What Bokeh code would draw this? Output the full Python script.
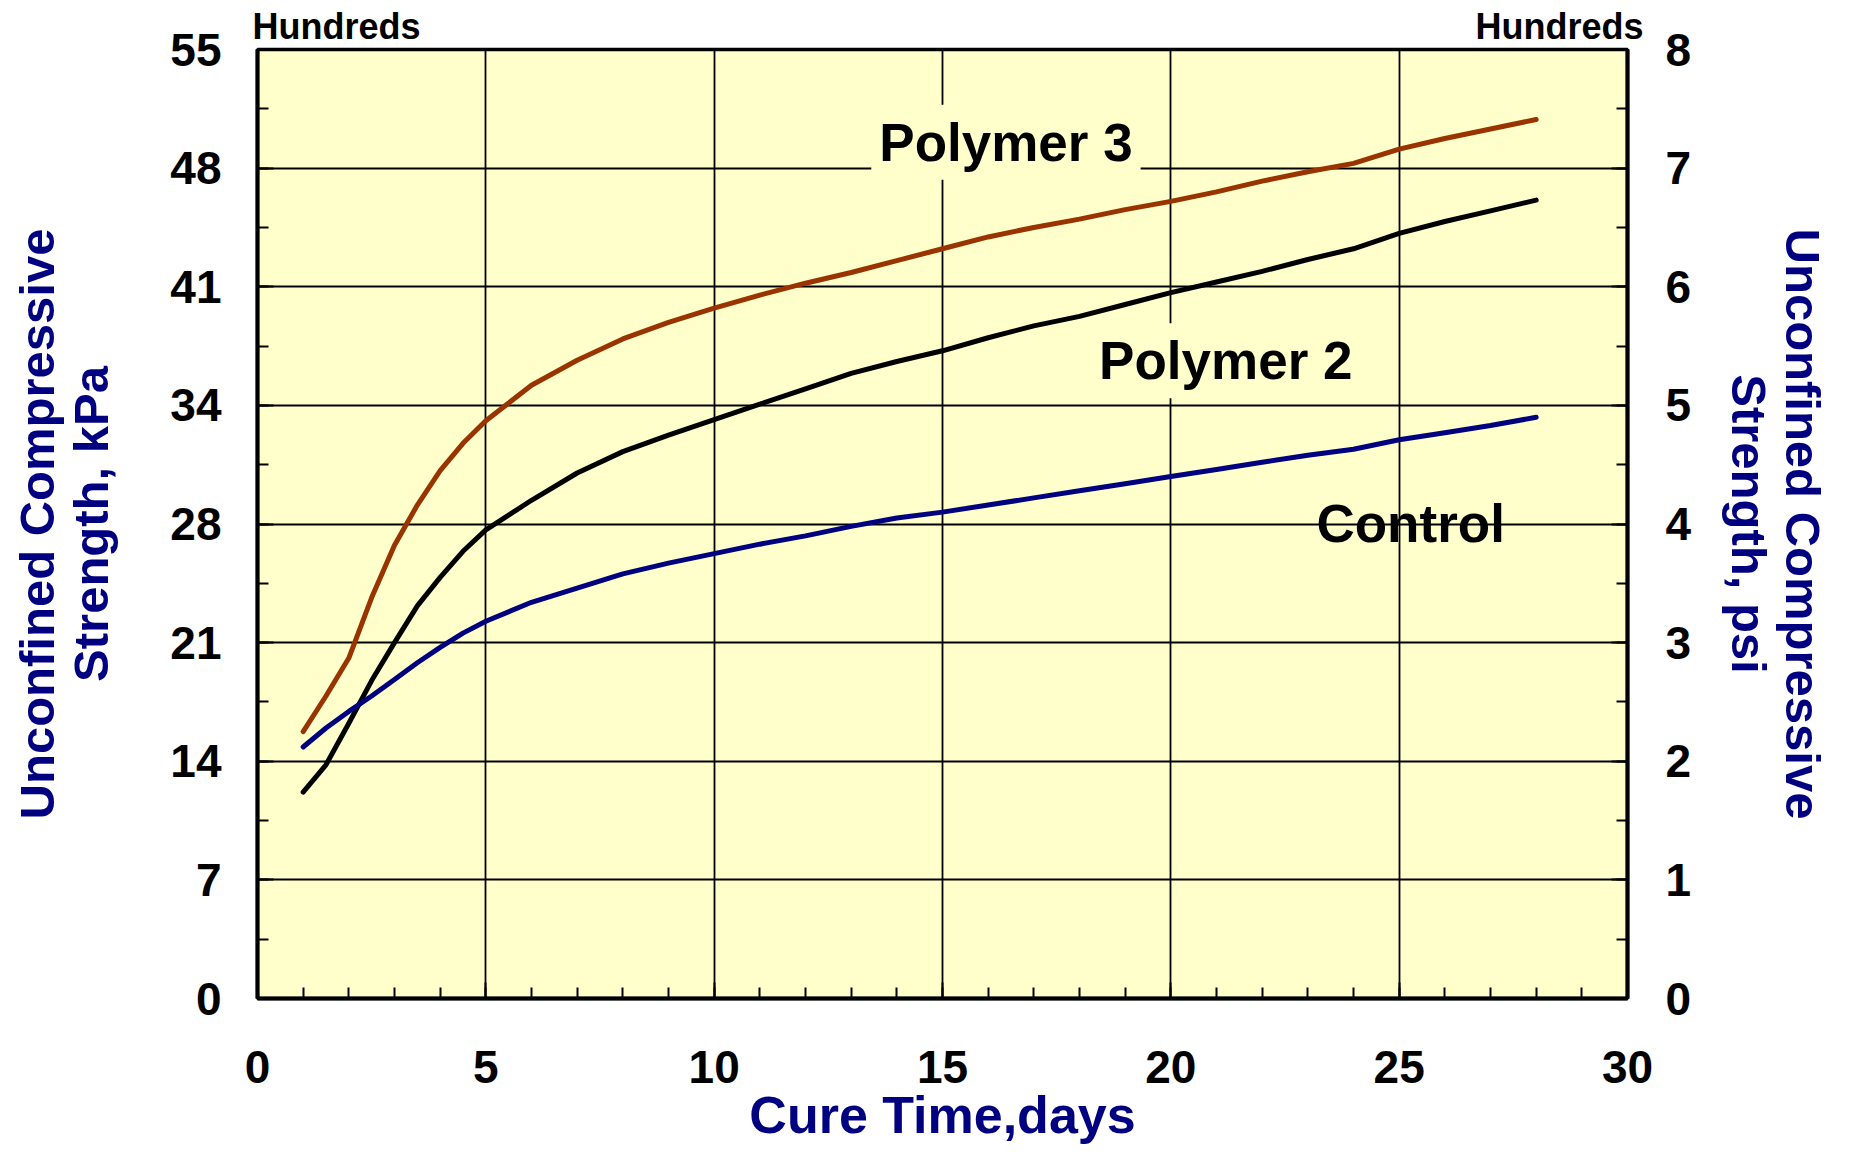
from bokeh.plotting import figure
from bokeh.models import Range1d, LinearAxis, FixedTicker, Label
from bokeh.embed import file_html
from bokeh.resources import INLINE

# ---------------- data ----------------
days = [1, 1.5, 2, 2.5, 3, 3.5, 4, 4.5, 5, 6, 7, 8, 9, 10, 11, 12, 13, 14,
        15, 16, 17, 18, 19, 20, 21, 22, 23, 24, 25, 26, 27, 28]
# strength in hundreds of psi
polymer3 = [2.25, 2.55, 2.87, 3.38, 3.82, 4.16, 4.45, 4.68, 4.87, 5.17, 5.38,
            5.56, 5.70, 5.82, 5.93, 6.03, 6.12, 6.22, 6.32, 6.42, 6.50, 6.57,
            6.65, 6.72, 6.80, 6.89, 6.97, 7.04, 7.16, 7.25, 7.33, 7.41]
polymer2 = [1.74, 1.97, 2.32, 2.68, 3.00, 3.31, 3.55, 3.77, 3.95, 4.20, 4.43,
            4.61, 4.75, 4.88, 5.01, 5.14, 5.27, 5.37, 5.46, 5.57, 5.67, 5.75,
            5.85, 5.95, 6.04, 6.13, 6.23, 6.32, 6.45, 6.55, 6.64, 6.73]
control = [2.12, 2.28, 2.42, 2.55, 2.69, 2.83, 2.96, 3.08, 3.18, 3.34, 3.46,
           3.58, 3.67, 3.75, 3.83, 3.90, 3.98, 4.05, 4.10, 4.16, 4.22, 4.28,
           4.34, 4.40, 4.46, 4.52, 4.58, 4.63, 4.71, 4.77, 4.83, 4.90]
series_names = ["Polymer 3", "Polymer 2", "Control"]

x_ticks = [0, 5, 10, 15, 20, 25, 30]
x_minor = list(range(0, 31))
psi_ticks = [0, 1, 2, 3, 4, 5, 6, 7, 8]
psi_tick_labels = ["0", "1", "2", "3", "4", "5", "6", "7", "8"]
kpa_tick_labels = ["0", "7", "14", "21", "28", "34", "41", "48", "55"]
y_minor = [i * 0.5 for i in range(0, 17)]
unit_note = "Hundreds"

# ---------------- layout ----------------
W, H = 1833, 1146
FL, FR, FT, FB = 257, 1628, 49, 1000   # frame edges in canvas px
XMIN, XMAX, YMIN, YMAX = 0, 30, 0, 8
PXX = (FR - FL) / (XMAX - XMIN)
PXY = (FB - FT) / (YMAX - YMIN)


def dx(xpix):
    return XMIN + (xpix - FL) / PXX


def dy(ypix):
    return YMIN + (FB - ypix) / PXY


FONT = "Liberation Sans"
NAVY = "#000080"

p = figure(width=W, height=H, output_backend="svg", toolbar_location=None,
           title=None,
           x_range=Range1d(XMIN, XMAX), y_range=Range1d(YMIN, YMAX),
           min_border_left=FL, min_border_right=W - FR,
           min_border_top=FT, min_border_bottom=H - FB,
           background_fill_color="#FFFFCC", border_fill_color="white")

p.outline_line_color = "black"
p.outline_line_width = 3.5

bottom_axis = p.below[0]
left_axis = p.left[0]

right_axis = LinearAxis()
p.add_layout(right_axis, "right")
top_axis = LinearAxis()
p.add_layout(top_axis, "above")

bottom_axis.ticker = FixedTicker(ticks=x_ticks, minor_ticks=x_minor)
left_axis.ticker = FixedTicker(ticks=psi_ticks, minor_ticks=y_minor)
right_axis.ticker = FixedTicker(ticks=psi_ticks, minor_ticks=y_minor)
left_axis.major_label_overrides = {t: l for t, l in zip(psi_ticks, kpa_tick_labels)}
right_axis.major_label_overrides = {t: l for t, l in zip(psi_ticks, psi_tick_labels)}

for ax in [bottom_axis, left_axis, right_axis]:
    ax.axis_line_color = "black"
    ax.axis_line_width = 4
    ax.major_tick_in = 16
    ax.major_tick_out = 0
    ax.major_tick_line_width = 2
    ax.major_tick_line_color = "black"
    ax.minor_tick_in = 11
    ax.minor_tick_out = 0
    ax.minor_tick_line_width = 2
    ax.minor_tick_line_color = "black"
    ax.major_label_text_font = FONT
    ax.major_label_text_font_style = "bold"
    ax.major_label_text_font_size = "46px"
    ax.major_label_text_color = "black"
    ax.axis_label_text_font = FONT
    ax.axis_label_text_font_style = "bold"
    ax.axis_label_text_color = NAVY
    ax.axis_label_text_line_height = 1.0

left_axis.major_label_standoff = 36
right_axis.major_label_standoff = 38
bottom_axis.major_label_standoff = 52

left_axis.axis_label = "Unconfined Compressive\nStrength, kPa"
left_axis.axis_label_text_font_size = "49px"
left_axis.axis_label_standoff = 49
right_axis.axis_label = "Unconfined Compressive\nStrength, psi"
right_axis.axis_label_text_font_size = "49px"
right_axis.axis_label_standoff = 28
bottom_axis.axis_label = "Cure Time,days"
bottom_axis.axis_label_text_font_size = "52px"
bottom_axis.axis_label_standoff = 0

# "Hundreds" notes above the frame, carried by an invisible top axis
note_pos = [dx(336), dx(1560)]
top_axis.ticker = FixedTicker(ticks=note_pos, minor_ticks=[])
top_axis.major_label_overrides = {t: unit_note for t in note_pos}
top_axis.axis_line_color = None
top_axis.major_tick_line_color = None
top_axis.minor_tick_line_color = None
top_axis.major_tick_in = 0
top_axis.major_tick_out = 0
top_axis.major_label_standoff = 3
top_axis.major_label_text_font = FONT
top_axis.major_label_text_font_style = "bold"
top_axis.major_label_text_font_size = "36px"
top_axis.major_label_text_color = "black"

p.xgrid.ticker = FixedTicker(ticks=x_ticks)
p.ygrid.ticker = FixedTicker(ticks=psi_ticks)
for g in [p.xgrid, p.ygrid]:
    g.grid_line_color = "black"
    g.grid_line_width = 1.8
    g.grid_line_alpha = 1.0

# ---------------- curves ----------------
p.line(days, polymer3, line_color="#993300", line_width=5,
       line_cap="round", line_join="round")
p.line(days, polymer2, line_color="black", line_width=5,
       line_cap="round", line_join="round")
p.line(days, control, line_color=NAVY, line_width=5,
       line_cap="round", line_join="round")

# ---------------- curve labels ----------------
label_specs = [
    (series_names[0], 1006, 142, True),
    (series_names[1], 1226, 361, True),
    (series_names[2], 1411, 524, False),
]
for text, xs, ys, boxed in label_specs:
    kw = dict(x=dx(xs), y=dy(ys), text=text, text_align="center",
              text_baseline="alphabetic", text_font=FONT,
              text_font_style="bold", text_font_size="53px",
              text_color="black")
    if boxed:
        kw.update(background_fill_color="#FFFFCC", padding=8)
    p.add_layout(Label(**kw))

open("out.html", "w").write(file_html(p, INLINE))
